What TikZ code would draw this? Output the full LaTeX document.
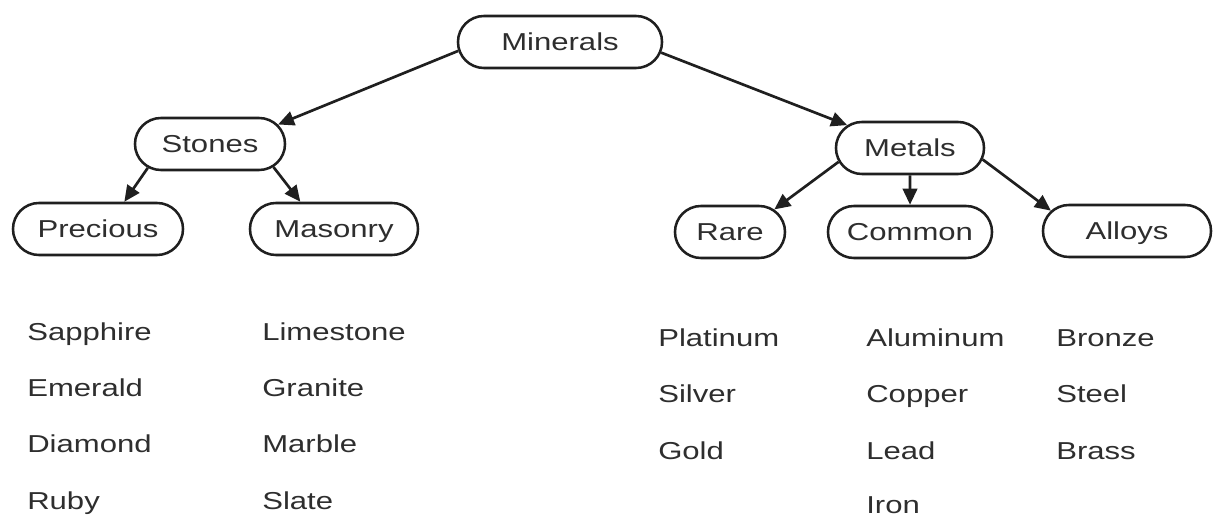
\documentclass[tikz,border=0pt]{standalone}
\usepackage{fontspec}
\setmainfont{Liberation Sans}[FakeStretch=1.27]
\usepackage{tikz}
\usetikzlibrary{arrows.meta, shapes.misc}

\begin{document}
\begin{tikzpicture}[x=0.025cm, y=-0.025cm, >={Triangle[length=0.4cm, width=0.36cm]},
  every node/.style={font=\fontsize{17.4}{20}\selectfont, text=black!82},
  category/.style={draw=black!88, line width=1.8pt, rounded rectangle, inner sep=0pt,
    minimum height=1.3cm, text height=12.5pt, text depth=0pt},
  link/.style={->, line width=1.9pt, draw=black!88},
  item/.style={anchor=base west, inner sep=0pt}]

  \useasboundingbox (0,0) rectangle (1218,517);

  % Root and the two main groups
  \node[category, minimum width=5.1cm] (minerals) at (560,42) {Minerals};
  \node[category, minimum width=3.75cm] (stones) at (210,144) {Stones};
  \node[category, minimum width=3.7cm] (metals) at (910,148) {Metals};

  % Sub groups
  \node[category, minimum width=4.25cm] (precious) at (98,229) {Precious};
  \node[category, minimum width=4.2cm] (masonry) at (334,229) {Masonry};
  \node[category, minimum width=2.75cm] (rare) at (730,232) {Rare};
  \node[category, minimum width=4.1cm] (common) at (910,232) {Common};
  \node[category, minimum width=4.2cm] (alloys) at (1127,231) {Alloys};

  % Arrows from the root
  \draw[link] (minerals.185) -- (stones.16);
  \draw[link] (minerals.354) -- (metals.160);

  % Arrows to the sub groups
  \draw[link] (stones.201) -- (precious.46);
  \draw[link] (stones.340) -- (masonry.141);
  \draw[link] (metals.191) -- (rare.27);
  \draw[link] (metals) -- (common);
  \draw[link] (metals.351) -- (alloys.165);

  % Members of each group, below the boxes
  \node[item] (sapphire) at (27,341) {Sapphire};
  \node[item] (emerald) at (27,397) {Emerald};
  \node[item] (diamond) at (27,453) {Diamond};
  \node[item] (ruby) at (27,510) {Ruby};

  \node[item] (limestone) at (262,341) {Limestone};
  \node[item] (granite) at (262,397) {Granite};
  \node[item] (marble) at (262,453) {Marble};
  \node[item] (slate) at (262,510) {Slate};

  \node[item] (platinum) at (658,347) {Platinum};
  \node[item] (silver) at (658,403) {Silver};
  \node[item] (gold) at (658,460) {Gold};

  \node[item] (aluminum) at (866,347) {Aluminum};
  \node[item] (copper) at (866,403) {Copper};
  \node[item] (lead) at (866,460) {Lead};
  \node[item] (iron) at (866,514) {Iron};

  \node[item] (bronze) at (1056,347) {Bronze};
  \node[item] (steel) at (1056,403) {Steel};
  \node[item] (brass) at (1056,460) {Brass};

\end{tikzpicture}
\end{document}
